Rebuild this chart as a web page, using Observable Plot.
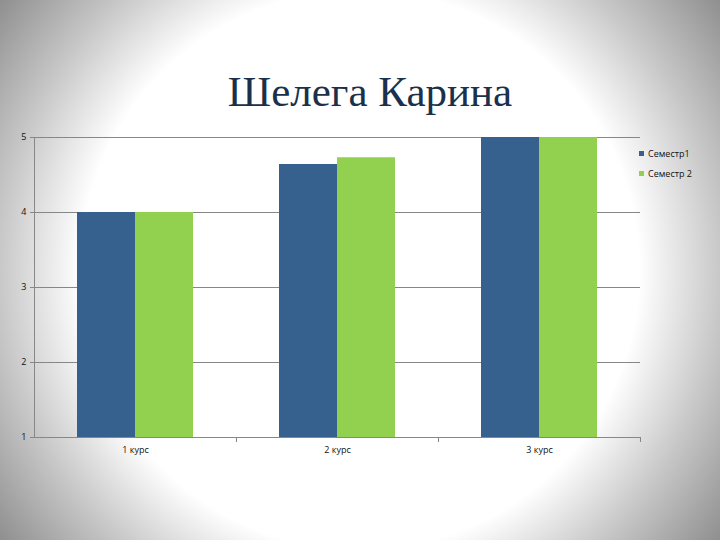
<!DOCTYPE html>
<html><head><meta charset="utf-8">
<script src="https://cdn.jsdelivr.net/npm/d3@7"></script>
<script src="https://cdn.jsdelivr.net/npm/@observablehq/plot@0.6"></script>
<style>
body{margin:0;}
#wrap{position:relative;width:720px;height:540px;overflow:hidden;background:radial-gradient(circle 450px at 360px 270px,#fff 62%,#c8c8c8 80%,#8f8f8f 100%);}
#title{position:absolute;left:0;width:740px;top:70px;text-align:center;font-family:"Liberation Serif","Times New Roman",serif;font-size:43px;line-height:43px;color:#1a304b;}
#chart{position:absolute;left:0;top:0;}
#legend{position:absolute;left:639px;top:143px;font-family:"Open Sans",sans-serif;font-size:9px;color:#111;}
.item{display:flex;align-items:center;height:20px;}
.sw{width:5px;height:5px;margin-right:4px;}
</style></head>
<body>
<div id="wrap">
  <div id="chart"></div>
  <div id="title">Шелега Карина</div>
  <div id="legend"></div>
</div>
<script>
const courses = ["1 курс", "2 курс", "3 курс"];
const series = ["Семестр1", "Семестр 2"];
const sem1 = [4, 4.64, 5];
const sem2 = [4, 4.73, 5];
const colors = ["#36618f", "#92d050"];
const yTicks = [1, 2, 3, 4, 5];

const values = [sem1, sem2];
const data = [];
courses.forEach((c, i) => series.forEach((s, j) => data.push({course: c, series: s, value: values[j][i]})));

const chart = Plot.plot({
  width: 720, height: 540,
  marginTop: 137, marginBottom: 103, marginLeft: 34, marginRight: 80,
  style: {background: "transparent", fontFamily: "Open Sans, sans-serif", fontSize: "9px", color: "#111"},
  fx: {domain: courses, padding: 0, label: null, axis: null},
  x: {domain: series, paddingInner: 0, paddingOuter: 0.74, axis: null},
  y: {domain: [1, 5]},
  color: {domain: series, range: colors},
  marks: [
    Plot.ruleY(yTicks.slice(1), {stroke: "#878787", strokeWidth: 1}),
    Plot.barY(data, {fx: "course", x: "series", y1: 1, y2: "value", fill: "series", inset: 0}),
    Plot.ruleY([1], {stroke: "#878787"}),
    Plot.frame({anchor: "left", facetAnchor: "left", stroke: "#878787"}),
    Plot.axisY(yTicks, {tickSize: 4, tickPadding: 4, label: null, stroke: "#878787", tickFormat: d3.format("d")}),
    Plot.axisFx({anchor: "bottom", tickSize: 0, tickPadding: 9, label: null}),
    Plot.axisFx({anchor: "bottom", tickSize: 5, dx: 101, tickFormat: () => "", label: null, stroke: "#878787"})
  ]
});
document.getElementById("chart").appendChild(chart);

const legend = document.getElementById("legend");
series.forEach((s, i) => {
  const it = document.createElement("div");
  it.className = "item";
  const sw = document.createElement("span");
  sw.className = "sw";
  sw.style.background = colors[i];
  const t = document.createElement("span");
  t.textContent = s;
  it.appendChild(sw); it.appendChild(t);
  legend.appendChild(it);
});
</script>
</body></html>
